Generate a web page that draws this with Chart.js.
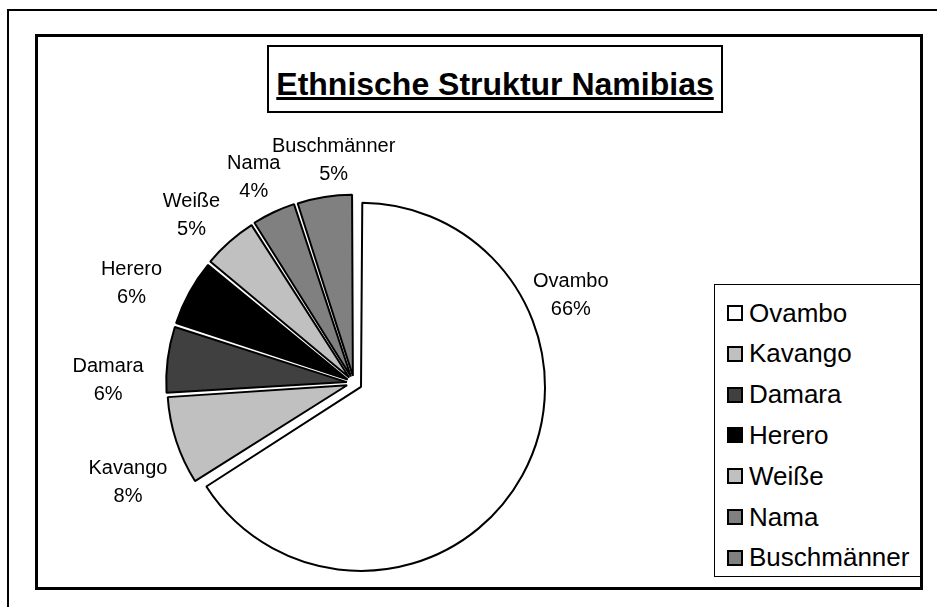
<!DOCTYPE html>
<html lang="de">
<head>
<meta charset="UTF-8">
<title>Ethnische Struktur Namibias</title>
<script src="https://cdn.jsdelivr.net/npm/chart.js@4.4.1/dist/chart.umd.min.js"></script>
<style>
  html, body { margin: 0; padding: 0; background: #fff; overflow: hidden; }
  body { width: 937px; height: 607px; position: relative; font-family: 'Liberation Sans', Arial, sans-serif; }
  #outerFrame { position: absolute; left: 7px; top: 9px; width: 940px; height: 610px; border: 2px solid #000; }
  #innerFrame { position: absolute; left: 35px; top: 34px; width: 882px; height: 550px; border: 3px solid #000; }
  #titleBox { position: absolute; left: 267px; top: 45px; width: 452px; height: 64px; border: 2px solid #000; text-align: center; }
  #titleBox span { display: inline-block; margin-top: 19px; font-weight: bold; font-size: 32px; line-height: 36px;
    text-decoration: underline; text-decoration-thickness: 3px; text-underline-offset: 2px; }
  #legend { position: absolute; left: 714px; top: 284px; width: 206px; height: 291px; border: 1px solid #000; }
  .item { position: absolute; left: 12px; height: 30px; display: flex; align-items: center; font-size: 26px; white-space: nowrap; }
  .swatch { width: 12px; height: 12px; border: 2px solid #000; margin-right: 6px; }
  #pie { position: absolute; left: 0; top: 0; }
</style>
</head>
<body>
  <div id="outerFrame"></div>
  <div id="innerFrame"></div>
  <div id="titleBox"><span>Ethnische Struktur Namibias</span></div>
  <div id="legend"></div>
  <canvas id="pie" width="937" height="607"></canvas>

  <script>
    const groups = ['Ovambo', 'Kavango', 'Damara', 'Herero', 'Weiße', 'Nama', 'Buschmänner']
    const shares = [66, 8, 6, 6, 5, 4, 5]

    const fills = ['#ffffff', '#c0c0c0', '#404040', '#000000', '#c0c0c0', '#808080', '#808080']
    // Ovambo is pulled out further than the small slices
    const offsets = [32, 29, 29, 29, 29, 29, 29]
    // [angle nudge in degrees, extra distance in px] for each slice label
    const labelNudge = [[-54, -7], [-6, 3.5], [-7, 13.5], [-5, 7.6], [-2.8, -3.6], [-0.8, -5.5], [4, -7]]

    // legend built from the same arrays
    groups.forEach((g, i) => {
      const row = document.createElement('div')
      row.className = 'item'
      row.style.top = (13 + i * 40.8) + 'px'
      row.innerHTML = `<span class="swatch" style="background:${fills[i]}"></span>${g}`
      legend.appendChild(row)
    })

    const sliceLabels = {
      id: 'sliceLabels',
      afterDatasetsDraw(chart, args, opts) {
        const { ctx } = chart
        const meta = chart.getDatasetMeta(0)
        ctx.save()
        ctx.font = opts.font
        ctx.fillStyle = '#000'
        ctx.textAlign = 'center'
        ctx.textBaseline = 'middle'
        meta.data.forEach((arc, i) => {
          const half = (arc.startAngle + arc.endAngle) / 2
          const circ = arc.endAngle - arc.startAngle
          // same shift the arc element applies when drawing an offset slice
          const t = (arc.options.offset / 4) * (2 - Math.sin(Math.min(Math.PI, circ)))
          const cx = arc.x + Math.cos(half) * t
          const cy = arc.y + Math.sin(half) * t
          const a = half + opts.nudge[i][0] * Math.PI / 180
          const ux = Math.cos(a), uy = Math.sin(a)
          const lines = [groups[i], shares[i] + '%']
          const w = Math.max(...lines.map(l => ctx.measureText(l).width))
          const ext = Math.abs(ux) * w / 2 + Math.abs(uy) * opts.lineHeight
          const d = arc.outerRadius + opts.gap + opts.nudge[i][1] + ext
          const x = cx + ux * d
          const y = cy + uy * d
          ctx.fillText(lines[0], x, y - opts.lineHeight / 2)
          ctx.fillText(lines[1], x, y + opts.lineHeight / 2)
        })
        ctx.restore()
      }
    }

    new Chart(document.getElementById('pie'), {
      type: 'pie',
      data: {
        labels: groups,
        datasets: [{
          data: shares,
          backgroundColor: fills,
          borderColor: '#000',
          borderWidth: 2,
          offset: offsets,
        }]
      },
      options: {
        responsive: false,
        animation: false,
        events: [],
        radius: 176,
        layout: { padding: { left: 0, right: 229, top: 159, bottom: 0 } },
        plugins: {
          legend: { display: false },
          tooltip: { enabled: false },
          sliceLabels: { font: '20px "Liberation Sans", Arial, sans-serif', lineHeight: 28, gap: 9, nudge: labelNudge },
        }
      },
      plugins: [sliceLabels]
    })
  </script>
</body>
</html>
